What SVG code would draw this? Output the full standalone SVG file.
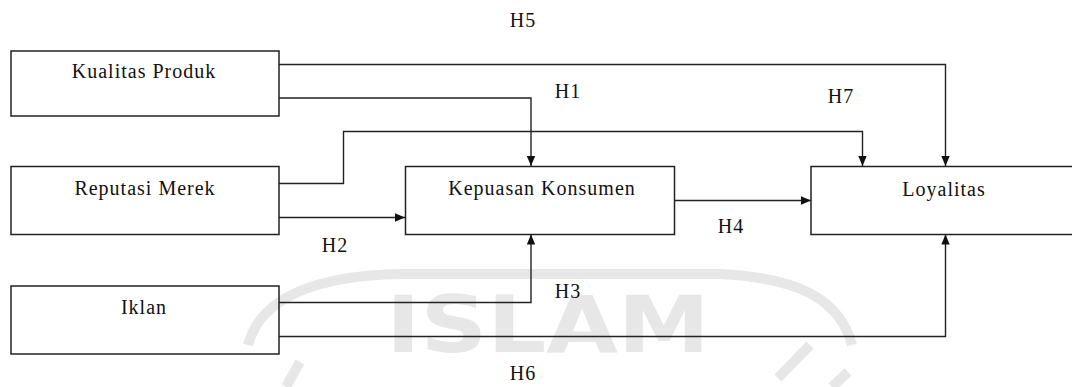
<svg xmlns="http://www.w3.org/2000/svg" width="1072" height="387" viewBox="0 0 1072 387">
<style>
.box{fill:none;stroke:#222;stroke-width:1.5}
.lbl{font-family:"Liberation Serif","Times New Roman",serif;font-size:20px;letter-spacing:1px;fill:#111;text-anchor:middle}
.con{fill:none;stroke:#222;stroke-width:1.4;marker-end:url(#arr)}
.wm{fill:#e7e7e7}
.wms{fill:none;stroke:#e7e7e7;stroke-width:10}
</style>
<defs>
<marker id="arr" markerUnits="userSpaceOnUse" markerWidth="10" markerHeight="10" viewBox="0 0 10 10" refX="10" refY="5" orient="auto">
<path d="M0,0.8 L10,5 L0,9.2 Z" fill="#111"/>
</marker>
</defs>
<rect width="1072" height="387" fill="#fff"/>
<g id="watermark">
<path class="wms" d="M248,345 C260,300 310,276 400,274 L720,274 C800,278 840,300 852,345"/>
<text x="386" y="352" font-family="DejaVu Sans, sans-serif" font-weight="bold" font-size="78" textLength="324" lengthAdjust="spacingAndGlyphs" class="wm">ISLAM</text>
<path class="wms" d="M300,362 L286,387"/>
<path class="wms" d="M810,345 L778,378"/>
<path class="wms" d="M848,372 L832,387"/>
</g>
<g id="connectors">
<path class="con" d="M279,64.5 H945.5 V166"/>
<path class="con" d="M279,98 H531 V166"/>
<path class="con" d="M279,183.5 H343.5 V131.5 H862.5 V166"/>
<path class="con" d="M279,217.5 H405"/>
<path class="con" d="M675,200.5 H811"/>
<path class="con" d="M279,302.5 H531 V234.5"/>
<path class="con" d="M279,336.5 H945.5 V234.5"/>
</g>
<g id="kualitas-produk">
<rect class="box" x="11" y="51" width="268" height="65"/>
<text class="lbl" x="144" y="78">Kualitas Produk</text>
</g>
<g id="reputasi-merek">
<rect class="box" x="11" y="166.5" width="268" height="68"/>
<text class="lbl" x="145" y="195">Reputasi Merek</text>
</g>
<g id="iklan">
<rect class="box" x="11" y="286" width="268" height="68"/>
<text class="lbl" x="144" y="314">Iklan</text>
</g>
<g id="kepuasan-konsumen">
<rect class="box" x="405.5" y="166.5" width="269" height="68"/>
<text class="lbl" x="542" y="195">Kepuasan Konsumen</text>
</g>
<g id="loyalitas">
<rect class="box" x="811" y="166.5" width="300" height="68"/>
<text class="lbl" x="944" y="196">Loyalitas</text>
</g>
<g id="labels">
<text class="lbl" x="523" y="27">H5</text>
<text class="lbl" x="568" y="98">H1</text>
<text class="lbl" x="841" y="103">H7</text>
<text class="lbl" x="731" y="233">H4</text>
<text class="lbl" x="335" y="252">H2</text>
<text class="lbl" x="568" y="298">H3</text>
<text class="lbl" x="523" y="380">H6</text>
</g>
</svg>
